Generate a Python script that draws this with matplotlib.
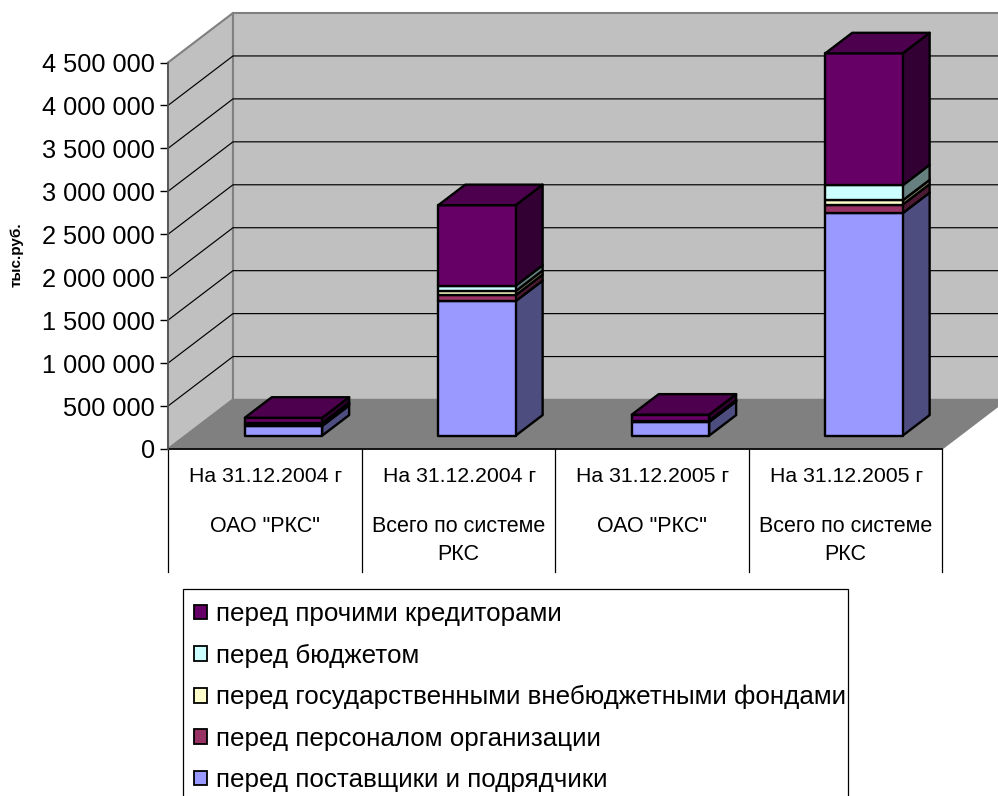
import matplotlib
matplotlib.use('Agg')
import matplotlib.pyplot as plt
from matplotlib.patches import Polygon, Patch, Rectangle

plt.rcParams['font.family'] = ['Liberation Sans', 'DejaVu Sans']

#chart values (thousand rubles)
categories = [['На 31.12.2004 г', 'ОАО "РКС"'],
              ['На 31.12.2004 г', 'Всего по системе\nРКС'],
              ['На 31.12.2005 г', 'ОАО "РКС"'],
              ['На 31.12.2005 г', 'Всего по системе\nРКС']]
suppliers = [113000, 1566000, 160000, 2590000]
personnel = [15000, 70000, 6000, 99000]
funds = [8000, 47000, 3000, 50000]
budget = [10000, 62000, 5000, 175000]
other = [62000, 938000, 70000, 1537000]

series_names = ['перед поставщики и подрядчики', 'перед персоналом организации',
                'перед государственными внебюджетными фондами', 'перед бюджетом',
                'перед прочими кредиторами']
series_values = [suppliers, personnel, funds, budget, other]
series_colors = ['#9999FF', '#993366', '#FFFFCC', '#CCFFFF', '#660066']
y_ticks = [0, 500000, 1000000, 1500000, 2000000, 2500000, 3000000, 3500000, 4000000, 4500000]
y_tick_labels = ['0', '500 000', '1 000 000', '1 500 000', '2 000 000', '2 500 000',
                 '3 000 000', '3 500 000', '4 000 000', '4 500 000']

W, H = 998, 796
fig = plt.figure(figsize=(W / 100, H / 100), dpi=100)
ax = fig.add_axes([168 / W, (H - 449) / H, 774 / W, 386.5 / H])
ax.set_xlim(0, 4)
ax.set_ylim(0, 4500000)
for s in ax.spines.values():
    s.set_visible(False)
ax.patch.set_visible(False)

#oblique 3d: a point one full depth back moves right and up by this much
depth_x = 65 / 193.5
depth_y = 49.5 / 386.5 * 4500000


def proj(x, v, d):
    return (x + d * depth_x, v + d * depth_y)


def face(pts, color, **kw):
    ax.add_patch(Polygon([proj(*p) for p in pts], closed=True, facecolor=color,
                         clip_on=False, **kw))


def shade(color, f):
    r, g, b = matplotlib.colors.to_rgb(color)
    return (r * f, g * f, b * f)


top_v = y_ticks[-1]
wall = dict(edgecolor='#808080', linewidth=1.5, zorder=1)
face([(0, 0, 0), (0, top_v, 0), (0, top_v, 1), (0, 0, 1)], '#C0C0C0', **wall)
face([(0, 0, 1), (0, top_v, 1), (4, top_v, 1), (4, 0, 1)], '#C0C0C0', **wall)
face([(0, 0, 0), (4, 0, 0), (4, 0, 1), (0, 0, 1)], '#808080', edgecolor='#808080',
     linewidth=1, zorder=1.5)

#gridlines on side wall and back wall
for v in y_ticks[1:-1]:
    xs, ys = zip(proj(0, v, 0), proj(0, v, 1), proj(4, v, 1))
    ax.plot(xs, ys, color='black', lw=0.85, zorder=2, clip_on=False)
ax.plot([0, 4], [0, 0], color='black', lw=1.2, zorder=3, clip_on=False)
ax.plot([0, 0], [0, top_v], color='#555555', lw=1.3, zorder=3, clip_on=False)

#stacked bars
bar_w = 0.4
d0, d1 = 0.27, 0.685
edge = dict(edgecolor='black', linewidth=1.7, joinstyle='round')
for i in range(len(categories)):
    x0 = i + 0.506 - bar_w / 2
    x1 = x0 + bar_w
    base = 0
    z = 5
    for vals, col in zip(series_values, series_colors):
        t = base + vals[i]
        face([(x1, base, d0), (x1, t, d0), (x1, t, d1), (x1, base, d1)], shade(col, 0.5), zorder=z, **edge)
        face([(x0, base, d0), (x1, base, d0), (x1, t, d0), (x0, t, d0)], col, zorder=z + 0.1, **edge)
        base = t
        z += 1
    col = series_colors[-1]
    face([(x0, base, d0), (x1, base, d0), (x1, base, d1), (x0, base, d1)], shade(col, 0.75), zorder=z, **edge)

ax.set_yticks(y_ticks)
ax.set_yticklabels(y_tick_labels, fontsize=18.3)
ax.tick_params(axis='y', length=5.8, width=1, pad=3.5, color='black')
ax.set_xticks([])
ax.text(17 / 998, (H - 255) / H, 'тыс.руб.', transform=fig.transFigure, rotation=90,
        fontsize=11, fontweight='bold', ha='center', va='center')

#table of category labels below the floor
tr = ax.get_xaxis_transform()
row_bottom = -(572 - 449) / 386.5
for i in range(len(categories) + 1):
    ax.plot([i, i], [0, row_bottom], transform=tr, color='black', lw=0.9, clip_on=False)
for i, (a, b) in enumerate(categories):
    ax.text(i + 0.505, -(476 - 449) / 386.5, a, transform=tr, ha='center', va='center', fontsize=15.3)
    ax.text(i + 0.5, -(516.5 - 449) / 386.5, b, transform=tr, ha='center', va='top', fontsize=15.5,
            linespacing=1.4)

#legend frame is drawn apart so it can run off the bottom edge like the original
fig.add_artist(Rectangle((183 / W, -0.01), (848 - 183) / W, (H - 589) / H + 0.01,
                         transform=fig.transFigure, facecolor='white', edgecolor='black',
                         linewidth=0.9, zorder=1))
handles = [Patch(facecolor=c, edgecolor='black', linewidth=1.3) for c in series_colors[::-1]]
leg = fig.legend(handles, series_names[::-1], loc='upper left',
                 bbox_to_anchor=(183.5 / W, (H - 592) / H), borderaxespad=0, frameon=False,
                 fontsize=18.7, labelspacing=0.67, handlelength=0.5, handleheight=0.5,
                 handletextpad=0.38, borderpad=0.39)
leg.set_zorder(2)

fig.savefig('out.png', dpi=100)
